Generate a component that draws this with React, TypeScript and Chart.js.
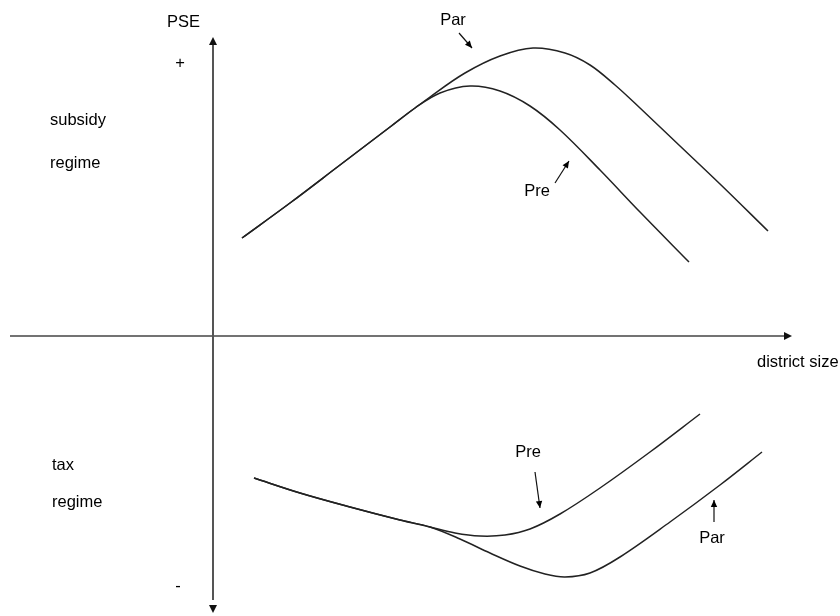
import React, { useEffect, useRef } from "react";
import { Chart, registerables } from "chart.js";
Chart.register(...registerables);

// x = district size, y = PSE (conceptual units; axes cross at 0,0)
const subsidyShared: [number, number][] = [[2.9, 9.8], [7.7, 13.3], [12.7, 17.1], [17.7, 20.9]];
const subsidyParTail: [number, number][] = [[21.7, 23.9], [25.2, 26.3], [28.7, 28.0], [32.0, 28.8], [35.2, 28.3], [37.7, 27.1], [40.2, 25.1], [42.7, 22.8], [46.7, 19.0], [50.7, 15.2], [55.5, 10.5]];
const subsidyPreTail: [number, number][] = [[20.2, 22.8], [22.7, 24.3], [25.7, 25.0], [28.7, 24.5], [31.7, 23.0], [34.7, 20.6], [38.7, 16.6], [42.7, 12.4], [47.6, 7.4]];

const taxShared: [number, number][] = [[4.1, -14.2], [8.7, -15.7], [13.7, -17.1], [18.7, -18.4], [21.7, -19.1]];
const taxPreTail: [number, number][] = [[24.2, -19.7], [26.7, -20.0], [29.2, -19.9], [31.7, -19.3], [34.7, -17.8], [38.7, -15.2], [43.7, -11.6], [48.7, -7.8]];
const taxParTail: [number, number][] = [[24.7, -20.3], [27.7, -21.7], [30.7, -23.0], [33.2, -23.8], [35.2, -24.1], [37.7, -23.7], [40.7, -22.1], [45.7, -18.6], [50.7, -14.9], [54.9, -11.6]];

const axisLabels = { y: "PSE", plus: "+", minus: "-", x: "district size" };
const regimeLabels = [["subsidy", "regime"], ["tax", "regime"]];
// annotation: label text, label position, arrow from, arrow to
const annotations: { text: string; at: [number, number]; from: [number, number]; to: [number, number] }[] = [
  { text: "Par", at: [24.0, 31.6], from: [24.6, 30.3], to: [25.9, 28.8] },
  { text: "Pre", at: [32.4, 14.5], from: [34.2, 15.3], to: [35.6, 17.5] },
  { text: "Pre", at: [31.5, -11.6], from: [32.2, -13.6], to: [32.7, -17.2] },
  { text: "Par", at: [49.9, -20.2], from: [50.1, -18.6], to: [50.1, -16.4] },
];

const toPts = (arr: [number, number][]) => arr.map(([x, y]) => ({ x, y }));

export default function App() {
  const ref = useRef<HTMLCanvasElement>(null);
  useEffect(() => {
    if (!ref.current) return;
    const font = '16.5px "Liberation Sans", Arial, sans-serif';
    const arrowHead = (ctx: CanvasRenderingContext2D, x1: number, y1: number, x2: number, y2: number, len: number, w: number) => {
      const a = Math.atan2(y2 - y1, x2 - x1);
      ctx.beginPath();
      ctx.moveTo(x2, y2);
      ctx.lineTo(x2 - len * Math.cos(a) + w * Math.sin(a), y2 - len * Math.sin(a) - w * Math.cos(a));
      ctx.lineTo(x2 - len * Math.cos(a) - w * Math.sin(a), y2 - len * Math.sin(a) + w * Math.cos(a));
      ctx.closePath();
      ctx.fill();
    };
    const overlay = {
      id: "overlay",
      afterDatasetsDraw(chart: any) {
        const { ctx, scales } = chart;
        const X = (v: number) => scales.x.getPixelForValue(v);
        const Y = (v: number) => scales.y.getPixelForValue(v);
        ctx.save();
        // axes
        ctx.strokeStyle = "#444";
        ctx.fillStyle = "#111";
        ctx.lineWidth = 1.6;
        ctx.beginPath();
        ctx.moveTo(X(-20.3), Y(0));
        ctx.lineTo(X(57.5), Y(0));
        ctx.stroke();
        arrowHead(ctx, X(56), Y(0), X(57.9), Y(0), 8, 4);
        ctx.lineWidth = 2;
        ctx.strokeStyle = "#555";
        ctx.beginPath();
        ctx.moveTo(X(0), Y(29.4));
        ctx.lineTo(X(0), Y(-26.4));
        ctx.stroke();
        arrowHead(ctx, X(0), Y(29), X(0), Y(29.9), 8, 4);
        arrowHead(ctx, X(0), Y(-26), X(0), Y(-27.7), 8, 4);
        // texts
        ctx.fillStyle = "#000";
        ctx.font = font;
        ctx.textBaseline = "middle";
        ctx.textAlign = "left";
        ctx.fillText(axisLabels.y, X(-4.6), Y(31.4));
        ctx.fillText(axisLabels.x, X(54.4), Y(-2.6));
        ctx.textAlign = "center";
        ctx.fillText(axisLabels.plus, X(-3.3), Y(27.3));
        ctx.fillText(axisLabels.minus, X(-3.5), Y(-25.0));
        ctx.textAlign = "left";
        ctx.fillText(regimeLabels[0][0], X(-16.3), Y(21.6));
        ctx.fillText(regimeLabels[0][1], X(-16.3), Y(17.3));
        ctx.fillText(regimeLabels[1][0], X(-16.1), Y(-12.9));
        ctx.fillText(regimeLabels[1][1], X(-16.1), Y(-16.6));
        // annotations
        ctx.textAlign = "center";
        ctx.strokeStyle = "#111";
        ctx.fillStyle = "#000";
        ctx.lineWidth = 1.2;
        for (const a of annotations) {
          ctx.fillText(a.text, X(a.at[0]), Y(a.at[1]));
          ctx.beginPath();
          ctx.moveTo(X(a.from[0]), Y(a.from[1]));
          ctx.lineTo(X(a.to[0]), Y(a.to[1]));
          ctx.stroke();
          arrowHead(ctx, X(a.from[0]), Y(a.from[1]), X(a.to[0]), Y(a.to[1]), 7, 3.2);
        }
        ctx.restore();
      },
    };
    const line = (data: [number, number][]) => ({
      data: toPts(data),
      borderColor: "#222",
      borderWidth: 1.5,
      pointRadius: 0,
      tension: 0.35,
      fill: false,
      showLine: true,
    });
    const chart = new Chart(ref.current, {
      type: "scatter",
      data: {
        datasets: [
          line([...subsidyShared, ...subsidyParTail]),
          line([...subsidyShared, ...subsidyPreTail]),
          line([...taxShared, ...taxPreTail]),
          line([...taxShared, ...taxParTail]),
        ],
      },
      options: {
        animation: false,
        responsive: false,
        maintainAspectRatio: false,
        layout: { padding: 0 },
        plugins: { legend: { display: false }, tooltip: { enabled: false } },
        scales: {
          x: { type: "linear", min: -21.3, max: 62.7, display: false },
          y: { type: "linear", min: -28, max: 33.6, display: false },
        },
      },
      plugins: [overlay],
    });
    return () => chart.destroy();
  }, []);
  return (
    <div style={{ position: "fixed", left: 0, top: 0, width: 840, height: 616, background: "#fff" }}>
      <canvas ref={ref} width={840} height={616} style={{ display: "block" }} />
    </div>
  );
}
